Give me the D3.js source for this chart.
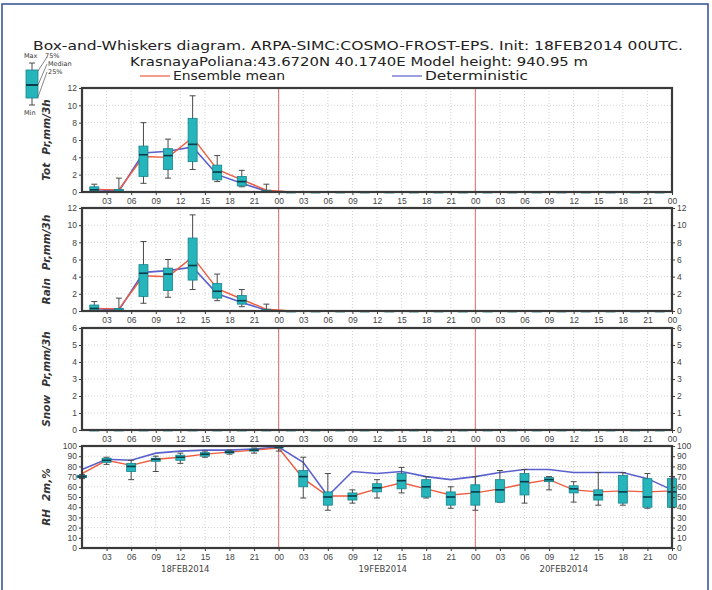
<!DOCTYPE html>
<html>
<head>
<meta charset="utf-8">
<script src="https://cdn.jsdelivr.net/npm/d3@7"></script>
<style>
  html, body { margin: 0; padding: 0; background: #fff; }
  svg { display: block; font-family: "DejaVu Sans", sans-serif; }
</style>
</head>
<body>
<svg id="chart" width="712" height="590"></svg>
<script>
// ---- Data ----------------------------------------------------------------
// 3-hourly accumulation intervals (hours since 18FEB2014 00UTC, interval mid-points)
const precipHours = [1.5, 4.5, 7.5, 10.5, 13.5, 16.5, 19.5, 22.5, 25.5, 28.5, 31.5, 34.5,
                     37.5, 40.5, 43.5, 46.5, 49.5, 52.5, 55.5, 58.5, 61.5, 64.5, 67.5, 70.5];

// Total precipitation, mm/3h: ensemble min / 25% / median / 75% / max
const totMin = [0, 0, 1.0, 1.6, 2.6, 1.2, 0.6, 0, 0,0,0,0,0,0,0,0,0,0,0,0,0,0,0,0];
const totQ1  = [0.05, 0, 1.8, 2.6, 3.5, 1.4, 0.7, 0, 0,0,0,0,0,0,0,0,0,0,0,0,0,0,0,0];
const totMed = [0.25, 0.05, 4.3, 4.2, 5.5, 2.3, 1.2, 0.05, 0,0,0,0,0,0,0,0,0,0,0,0,0,0,0,0];
const totQ3  = [0.6, 0.3, 5.3, 5.0, 8.5, 3.1, 1.8, 0.2, 0,0,0,0,0,0,0,0,0,0,0,0,0,0,0,0];
const totMax = [0.9, 1.6, 8.0, 6.1, 11.1, 4.2, 2.5, 0.9, 0,0,0,0,0,0,0,0,0,0,0,0,0,0,0,0];
const totMean = [0.3, 0.25, 4.1, 4.0, 6.3, 2.6, 1.4, 0.2, 0,0,0,0,0,0,0,0,0,0,0,0,0,0,0,0];
const totDet  = [0.3, 0.1, 4.5, 4.7, 5.2, 2.0, 1.0, 0.1, 0,0,0,0,0,0,0,0,0,0,0,0,0,0,0,0];

// Rain, mm/3h
const rainMin = [0, 0, 0.9, 1.6, 2.5, 1.2, 0.5, 0, 0,0,0,0,0,0,0,0,0,0,0,0,0,0,0,0];
const rainQ1  = [0.1, 0, 1.7, 2.4, 3.6, 1.5, 0.8, 0, 0,0,0,0,0,0,0,0,0,0,0,0,0,0,0,0];
const rainMed = [0.3, 0.05, 4.4, 4.3, 5.3, 2.3, 1.2, 0.05, 0,0,0,0,0,0,0,0,0,0,0,0,0,0,0,0];
const rainQ3  = [0.7, 0.3, 5.4, 5.0, 8.5, 3.2, 1.8, 0.2, 0,0,0,0,0,0,0,0,0,0,0,0,0,0,0,0];
const rainMax = [1.1, 1.5, 8.1, 6.0, 11.2, 4.3, 2.5, 0.8, 0,0,0,0,0,0,0,0,0,0,0,0,0,0,0,0];
const rainMean = [0.3, 0.25, 4.1, 4.0, 6.3, 2.6, 1.4, 0.2, 0,0,0,0,0,0,0,0,0,0,0,0,0,0,0,0];
const rainDet  = [0.3, 0.1, 4.5, 4.7, 5.1, 2.0, 1.0, 0.1, 0,0,0,0,0,0,0,0,0,0,0,0,0,0,0,0];

// Snow, mm/3h (no snowfall in any member)
const snowMin  = [0,0,0,0,0,0,0,0,0,0,0,0,0,0,0,0,0,0,0,0,0,0,0,0];
const snowQ1   = [0,0,0,0,0,0,0,0,0,0,0,0,0,0,0,0,0,0,0,0,0,0,0,0];
const snowMed  = [0,0,0,0,0,0,0,0,0,0,0,0,0,0,0,0,0,0,0,0,0,0,0,0];
const snowQ3   = [0,0,0,0,0,0,0,0,0,0,0,0,0,0,0,0,0,0,0,0,0,0,0,0];
const snowMax  = [0,0,0,0,0,0,0,0,0,0,0,0,0,0,0,0,0,0,0,0,0,0,0,0];
const snowMean = [0,0,0,0,0,0,0,0,0,0,0,0,0,0,0,0,0,0,0,0,0,0,0,0];
const snowDet  = [0,0,0,0,0,0,0,0,0,0,0,0,0,0,0,0,0,0,0,0,0,0,0,0];

// Relative humidity at 2 m, %, every 3 hours
const rhHours = [0, 3, 6, 9, 12, 15, 18, 21, 24, 27, 30, 33, 36, 39, 42, 45, 48, 51, 54, 57, 60, 63, 66, 69, 72];
const rhMin  = [68, 82, 67, 75, 83, 89, 92, 93, 95, 49, 37, 44, 49, 54, 49, 39, 37, 45, 44, 57, 45, 42, 42, 39, 40];
const rhQ1   = [69, 84, 75, 85, 86, 90, 93, 95, 98, 60, 42, 47, 55, 58, 50, 42, 42, 45, 52, 65, 54, 47, 44, 40, 40];
const rhMed  = [70, 86, 80, 87, 89, 92, 94, 96, 99, 70, 50, 51, 59, 66, 60, 50, 55, 57, 65, 67, 58, 52, 55, 50, 55];
const rhQ3   = [71, 88, 83, 88, 91, 93.5, 95, 97, 100, 76, 55, 54, 63, 73, 67, 55, 62, 67, 73, 69, 61, 57, 71, 68, 68];
const rhMax  = [72, 89, 86, 90, 93, 95, 96, 98, 100, 89, 73, 57, 67, 79, 70, 60, 70, 76, 77, 70, 65, 74, 74, 73, 70];
const rhMean = [73, 86, 81, 87, 89, 92, 94, 96, 98, 68, 51, 51, 58, 64, 58, 52, 54, 58, 63, 67, 57, 55, 56, 55, 56];
const rhDet  = [77, 87, 86, 93, 95, 96, 96, 97, 99, 84, 51, 75, 73, 75, 70, 67, 70, 74, 77, 77, 74, 74, 74, 68, 57];

// Axis labelling
const timeTicks = [3, 6, 9, 12, 15, 18, 21, 24, 27, 30, 33, 36, 39, 42, 45, 48, 51, 54, 57, 60, 63, 66, 69, 72];
const timeTickLabels = ["03","06","09","12","15","18","21","00","03","06","09","12","15","18","21","00","03","06","09","12","15","18","21","00"];
const dayBreaks = [24, 48];
const dateLabels = ["18FEB2014", "19FEB2014", "20FEB2014"];
const dateLabelHours = [12.6, 36.7, 58.8];
const precipTicks = [0, 2, 4, 6, 8, 10, 12];
const snowTicks = [0, 1, 2, 3, 4, 5, 6];
const rhTicks = [0, 10, 20, 30, 40, 50, 60, 70, 80, 90, 100];

const titleLine1 = "Box-and-Whiskers diagram. ARPA-SIMC:COSMO-FROST-EPS. Init: 18FEB2014 00UTC.";
const titleLine2 = "KrasnayaPoliana:43.6720N 40.1740E Model height: 940.95 m";
const legendNames = ["Ensemble mean", "Deterministic"];

// ---- Styling ---------------------------------------------------------------
const BOX_FILL = "#25b5ba";
const BOX_EDGE = "#17838d";
const MEDIAN = "#0c3b4a";
const WHISKER = "#4a4a4a";
const MEAN_COL = "#ef5b3f";
const DET_COL = "#5a60cc";
const FRAME = "#3a3a3a";
const GRID = "#c8c8c8";
const DAY_LINE = "#e26a6a";

const svg = d3.select("#chart");

// outer border of the plot sheet
svg.append("rect").attr("x", 2).attr("y", 4).attr("width", 706).attr("height", 600)
  .attr("fill", "none").attr("stroke", "#2f4f8f").attr("stroke-width", 1.5);

const x = d3.scaleLinear().domain([0, 72]).range([82, 672]);

function zipStats(hours, mn, q1, md, q3, mx) {
  return hours.map((h, i) => ({ h, min: mn[i], q1: q1[i], med: md[i], q3: q3[i], max: mx[i] }));
}

const panels = [
  { top: 88, bottom: 192, domain: [0, 12], ticks: precipTicks, leftLabels: true, rightLabels: false,
    name: "Tot", unit: "Pr,mm/3h",
    stats: zipStats(precipHours, totMin, totQ1, totMed, totQ3, totMax), hours: precipHours, mean: totMean, det: totDet },
  { top: 208, bottom: 311, domain: [0, 12], ticks: precipTicks, leftLabels: true, rightLabels: true,
    name: "Rain", unit: "Pr,mm/3h",
    stats: zipStats(precipHours, rainMin, rainQ1, rainMed, rainQ3, rainMax), hours: precipHours, mean: rainMean, det: rainDet },
  { top: 328, bottom: 430, domain: [0, 6], ticks: snowTicks, leftLabels: true, rightLabels: true,
    name: "Snow", unit: "Pr,mm/3h",
    stats: zipStats(precipHours, snowMin, snowQ1, snowMed, snowQ3, snowMax), hours: precipHours, mean: snowMean, det: snowDet },
  { top: 446, bottom: 548, domain: [0, 100], ticks: rhTicks, leftLabels: true, rightLabels: true,
    name: "RH", unit: "2m,%",
    stats: zipStats(rhHours, rhMin, rhQ1, rhMed, rhQ3, rhMax), hours: rhHours, mean: rhMean, det: rhDet }
];

panels.forEach(p => {
  const y = d3.scaleLinear().domain(p.domain).range([p.bottom, p.top]);
  const g = svg.append("g");

  // dotted grid
  g.selectAll(".vg").data(timeTicks.slice(0, -1)).join("line")
    .attr("x1", d => x(d)).attr("x2", d => x(d)).attr("y1", p.top).attr("y2", p.bottom)
    .attr("stroke", GRID).attr("stroke-width", 0.8).attr("stroke-dasharray", "1,2");
  g.selectAll(".hg").data(p.ticks.slice(1, -1)).join("line")
    .attr("x1", x(0)).attr("x2", x(72)).attr("y1", d => y(d)).attr("y2", d => y(d))
    .attr("stroke", GRID).attr("stroke-width", 0.8).attr("stroke-dasharray", "1,2");

  // day boundaries
  g.selectAll(".day").data(dayBreaks).join("line")
    .attr("x1", d => x(d)).attr("x2", d => x(d)).attr("y1", p.top).attr("y2", p.bottom)
    .attr("stroke", DAY_LINE).attr("stroke-width", 1);

  // deterministic and ensemble-mean curves
  const line = d3.line().x(d => x(d[0])).y(d => y(d[1]));
  g.append("path").datum(p.hours.map((h, i) => [h, p.det[i]]))
    .attr("d", line).attr("fill", "none").attr("stroke", DET_COL).attr("stroke-width", 1.6);
  g.append("path").datum(p.hours.map((h, i) => [h, p.mean[i]]))
    .attr("d", line).attr("fill", "none").attr("stroke", MEAN_COL).attr("stroke-width", 1.4);

  // box-and-whiskers
  const bw = 9, cap = 3;
  const bx = g.selectAll(".box").data(p.stats).join("g");
  bx.append("line").attr("x1", d => x(d.h)).attr("x2", d => x(d.h))
    .attr("y1", d => y(d.max)).attr("y2", d => y(d.min)).attr("stroke", WHISKER).attr("stroke-width", 1);
  bx.append("line").attr("x1", d => x(d.h) - cap).attr("x2", d => x(d.h) + cap)
    .attr("y1", d => y(d.max)).attr("y2", d => y(d.max)).attr("stroke", WHISKER).attr("stroke-width", 1);
  bx.append("line").attr("x1", d => x(d.h) - cap).attr("x2", d => x(d.h) + cap)
    .attr("y1", d => y(d.min)).attr("y2", d => y(d.min)).attr("stroke", WHISKER).attr("stroke-width", 1);
  bx.append("rect").attr("x", d => x(d.h) - bw / 2).attr("width", bw)
    .attr("y", d => y(d.q3)).attr("height", d => Math.max(1, y(d.q1) - y(d.q3)))
    .attr("fill", BOX_FILL).attr("stroke", BOX_EDGE).attr("stroke-width", 0.8);
  bx.append("line").attr("x1", d => x(d.h) - bw / 2).attr("x2", d => x(d.h) + bw / 2)
    .attr("y1", d => y(d.med)).attr("y2", d => y(d.med)).attr("stroke", MEDIAN).attr("stroke-width", 1.6);

  // frame
  g.append("rect").attr("x", x(0)).attr("y", p.top).attr("width", x(72) - x(0)).attr("height", p.bottom - p.top)
    .attr("fill", "none").attr("stroke", FRAME).attr("stroke-width", 2.2);

  // time axis
  const xAxis = d3.axisBottom(x).tickValues(timeTicks).tickSize(3).tickPadding(3)
    .tickFormat((d, i) => timeTickLabels[i]);
  const xa = g.append("g").attr("transform", `translate(0,${p.bottom})`).call(xAxis);
  xa.select(".domain").remove();
  xa.selectAll("line").attr("stroke", FRAME);
  xa.selectAll("text").attr("font-size", 8.5).attr("fill", "#444");

  // value axes
  const fmt = d3.format("d");
  const yl = g.append("g").attr("transform", `translate(${x(0)},0)`)
    .call(d3.axisLeft(y).tickValues(p.ticks).tickFormat(fmt).tickSize(3).tickPadding(2));
  yl.select(".domain").remove();
  yl.selectAll("line").attr("stroke", FRAME);
  yl.selectAll("text").attr("font-size", 8.5).attr("fill", "#444");
  if (p.rightLabels) {
    const yr = g.append("g").attr("transform", `translate(${x(72)},0)`)
      .call(d3.axisRight(y).tickValues(p.ticks).tickFormat(fmt).tickSize(3).tickPadding(2));
    yr.select(".domain").remove();
    yr.selectAll("line").attr("stroke", FRAME);
    yr.selectAll("text").attr("font-size", 8.5).attr("fill", "#444");
  }

  // panel title (vertical)
  const mid = (p.top + p.bottom) / 2;
  const t = g.append("text").attr("transform", `translate(50,${mid}) rotate(-90)`)
    .attr("text-anchor", "middle").attr("font-size", 10.5).attr("font-style", "italic")
    .attr("font-weight", "bold").attr("fill", "#333");
  t.append("tspan").text(p.name);
  t.append("tspan").attr("dx", 8).text(p.unit);
});

// dates under the humidity panel
svg.selectAll(".date").data(dateLabels).join("text")
  .attr("x", (d, i) => x(dateLabelHours[i])).attr("y", 572)
  .attr("text-anchor", "middle").attr("font-size", 8.5).attr("fill", "#444").text(d => d);

// titles
svg.append("text").attr("x", 33).attr("y", 50).attr("font-size", 12).attr("fill", "#222")
  .attr("textLength", 650).attr("lengthAdjust", "spacingAndGlyphs").text(titleLine1);
svg.append("text").attr("x", 130).attr("y", 66).attr("font-size", 12).attr("fill", "#222")
  .attr("textLength", 458).attr("lengthAdjust", "spacingAndGlyphs").text(titleLine2);

// curve legend
const legendCols = [MEAN_COL, DET_COL];
const legendX = [140, 392];
const lg = svg.selectAll(".lg").data(legendNames).join("g")
  .attr("transform", (d, i) => `translate(${legendX[i]},0)`);
lg.append("line").attr("x1", 0).attr("x2", 30).attr("y1", 76).attr("y2", 76)
  .attr("stroke", (d, i) => legendCols[i]).attr("stroke-width", 1.2);
lg.append("text").attr("x", 33).attr("y", 80).attr("font-size", 12).attr("fill", "#222")
  .attr("textLength", (d, i) => [112, 103][i]).attr("lengthAdjust", "spacingAndGlyphs").text(d => d);

// box-and-whisker key
const key = svg.append("g");
key.append("line").attr("x1", 32).attr("x2", 32).attr("y1", 63).attr("y2", 105).attr("stroke", WHISKER);
key.append("line").attr("x1", 29).attr("x2", 35).attr("y1", 63).attr("y2", 63).attr("stroke", WHISKER);
key.append("line").attr("x1", 29).attr("x2", 35).attr("y1", 105).attr("y2", 105).attr("stroke", WHISKER);
key.append("rect").attr("x", 26).attr("y", 70).attr("width", 12).attr("height", 28)
  .attr("fill", BOX_FILL).attr("stroke", BOX_EDGE).attr("stroke-width", 0.8);
key.append("line").attr("x1", 26).attr("x2", 38).attr("y1", 85).attr("y2", 85).attr("stroke", MEDIAN).attr("stroke-width", 2);
const keyLabels = ["Max", "75%", "Median", "25%", "Min"];
const keyLx = [24, 45, 48, 48, 24];
const keyLy = [58, 58, 66, 74, 115];
key.selectAll(".kl").data(keyLabels).join("text")
  .attr("x", (d, i) => keyLx[i]).attr("y", (d, i) => keyLy[i])
  .attr("font-size", 6.5).attr("fill", "#333").text(d => d);
const leadFrom = [71, 85, 97];
const leadTo = [57, 64, 72];
key.selectAll(".ld").data(leadFrom).join("line")
  .attr("x1", 38).attr("y1", d => d).attr("x2", 47).attr("y2", (d, i) => leadTo[i])
  .attr("stroke", "#555").attr("stroke-width", 0.7);
</script>
</body>
</html>
